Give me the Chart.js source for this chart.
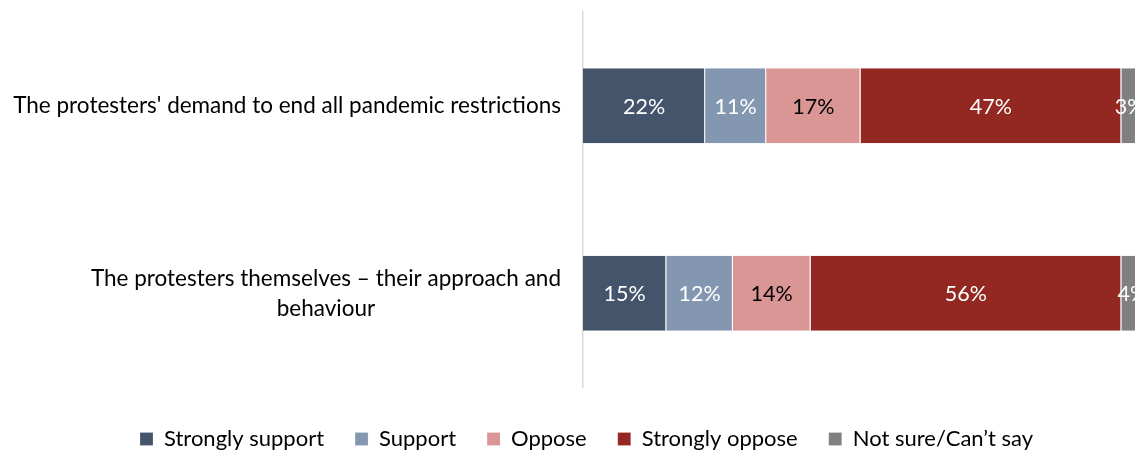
<!DOCTYPE html>
<html>
<head>
<meta charset="utf-8">
<script src="https://cdn.jsdelivr.net/npm/chart.js@4/dist/chart.umd.min.js"></script>
<style>
  html, body { margin: 0; padding: 0; background: #fff; }
  #wrap { width: 1135px; height: 450px; overflow: hidden; }
  canvas { display: block; }
</style>
</head>
<body>
<div id="wrap"><canvas id="chart" width="1140" height="460"></canvas></div>
<script>
const categories = [
  ["The protesters' demand to end all pandemic restrictions"],
  ["The protesters themselves \u2013 their approach and", "behaviour"],
];
const seriesNames = ["Strongly support", "Support", "Oppose", "Strongly oppose", "Not sure/Can\u2019t say"];
const stronglySupport = [22, 15];
const support = [11, 12];
const oppose = [17, 14];
const stronglyOppose = [47, 56];
const notSure = [3, 4];

const colors = ["#44546A", "#8497B0", "#DA9694", "#922821", "#808080"];
const labelColors = ["#fff", "#fff", "#000", "#fff", "#fff"];
const FONT = "Lato";

// value labels in the middle of each segment
const valueLabels = {
  id: "valueLabels",
  afterDatasetsDraw(chart) {
    const ctx = chart.ctx;
    ctx.save();
    ctx.font = "21.5px " + FONT;
    ctx.textAlign = "center";
    ctx.textBaseline = "middle";
    chart.data.datasets.forEach((ds, i) => {
      const meta = chart.getDatasetMeta(i);
      meta.data.forEach((bar, j) => {
        ctx.fillStyle = labelColors[i];
        ctx.fillText(ds.data[j] + "%", (bar.x + bar.base) / 2, bar.y + 1);
      });
    });
    ctx.restore();
  }
};

// category labels, each block right aligned and its lines centred
const categoryLabels = {
  id: "categoryLabels",
  afterDraw(chart) {
    const ctx = chart.ctx;
    const scale = chart.scales.y;
    const right = scale.right - 22;
    const lineH = 30;
    ctx.save();
    ctx.font = "22.5px " + FONT;
    ctx.fillStyle = "#000";
    ctx.textAlign = "center";
    ctx.textBaseline = "middle";
    chart.data.labels.forEach((lines, i) => {
      const y = scale.getPixelForValue(i);
      const w = Math.max(...lines.map(l => ctx.measureText(l).width));
      const cx = right - w / 2;
      const top = y - (lines.length - 1) * lineH / 2;
      lines.forEach((l, k) => ctx.fillText(l, cx, top + k * lineH));
    });
    ctx.restore();
  }
};

const values = [stronglySupport, support, oppose, stronglyOppose, notSure];

new Chart(document.getElementById("chart"), {
  type: "bar",
  data: {
    labels: categories,
    datasets: values.map((data, i) => ({
      label: seriesNames[i],
      data: data,
      backgroundColor: colors[i],
      borderColor: "rgba(255,255,255,0.75)",
      borderWidth: { top: 0, bottom: 0, left: 0, right: 1 },
      barPercentage: 0.4,
      categoryPercentage: 1,
    })),
  },
  options: {
    indexAxis: "y",
    responsive: false,
    animation: false,
    layout: { padding: { top: 12, right: 2, left: 35, bottom: 0 } },
    plugins: {
      tooltip: { enabled: false },
      legend: {
        position: "bottom",
        labels: {
          font: { family: FONT, size: 22 },
          color: "#000",
          boxWidth: 13,
          boxHeight: 13,
          padding: 31,
        },
      },
    },
    scales: {
      x: {
        stacked: true,
        min: 0,
        max: 100,
        ticks: { display: false },
        grid: { display: false },
        border: { display: false },
        afterFit(scale) { scale.height = 10; },
      },
      y: {
        stacked: true,
        ticks: { display: false },
        grid: { display: false },
        border: { display: true, color: "#d9d9d9", width: 1.5 },
        afterFit(scale) { scale.width = 548; },
      },
    },
  },
  plugins: [valueLabels, categoryLabels],
});
</script>
</body>
</html>
